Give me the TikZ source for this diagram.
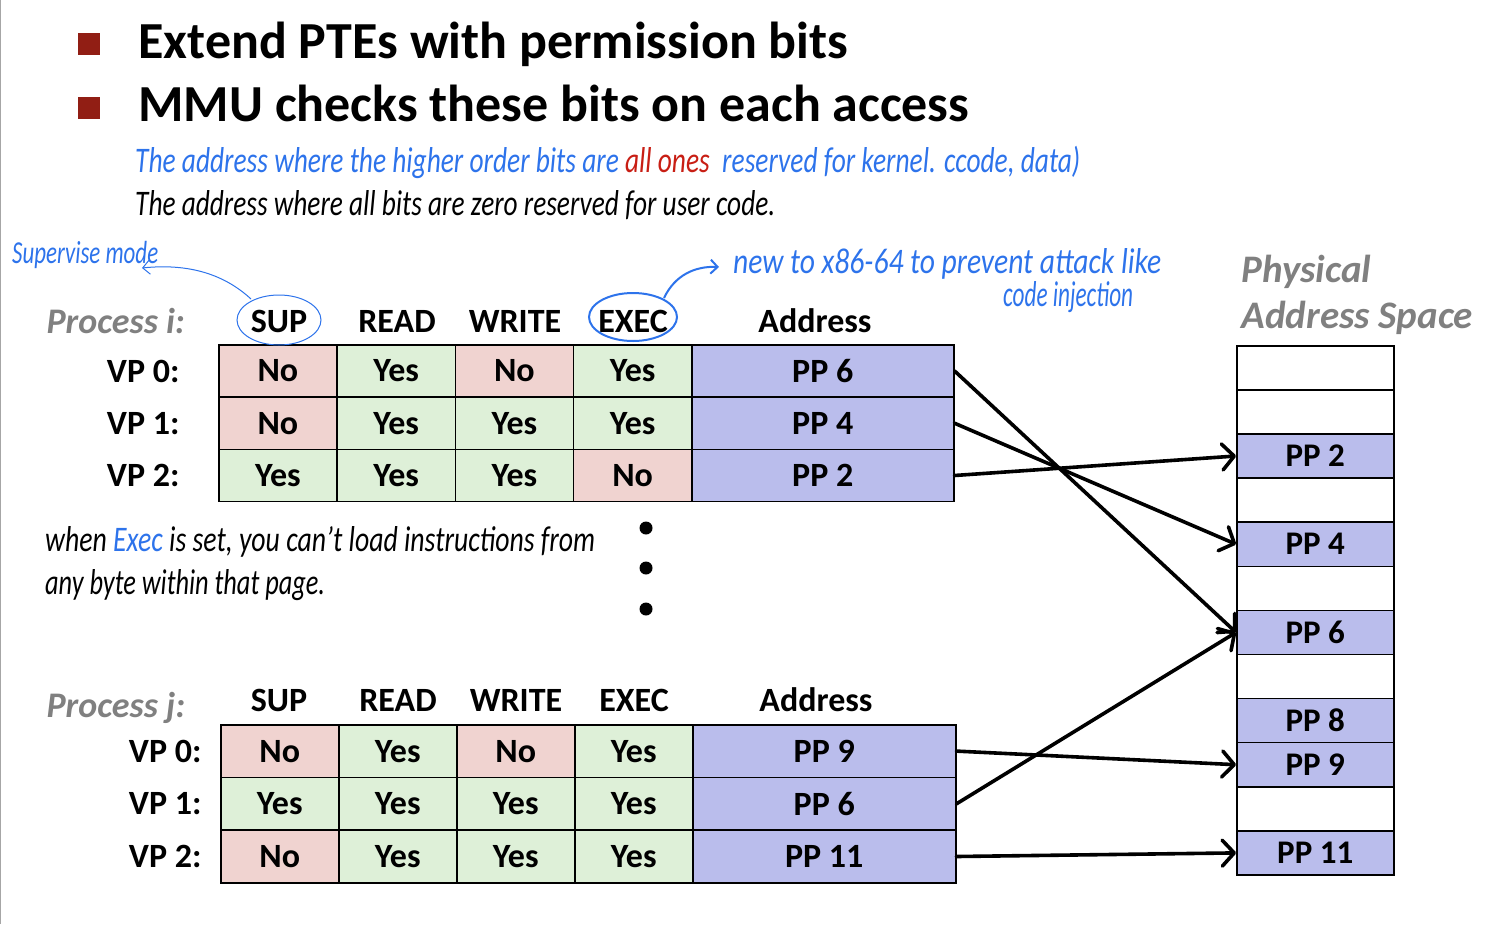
\documentclass[tikz,border=0pt]{standalone}
\usepackage{fontspec}
\setmainfont{Carlito}
\usetikzlibrary{arrows.meta}
\definecolor{cred}{RGB}{240,211,208}
\definecolor{cgrn}{RGB}{222,240,216}
\definecolor{cblu}{RGB}{186,189,236}
\definecolor{bul}{RGB}{145,30,20}
\definecolor{hwblue}{RGB}{45,115,235}
\definecolor{hwred}{RGB}{200,30,20}
\definecolor{pgray}{RGB}{128,128,128}
\newcommand{\hw}[2]{\resizebox{#1}{\height}{#2}}
\begin{document}
\begin{tikzpicture}[x=1pt,y=-1pt,
  cellbox/.style={draw=black,line width=1.5pt,inner sep=0pt,anchor=north west,
    font=\fontsize{34}{34}\selectfont\bfseries},
  No/.style={fill=cred},
  Yes/.style={fill=cgrn},
  addrbox/.style={cellbox,fill=cblu},
  physbox/.style={draw=black,line width=1.5pt,inner sep=0pt,anchor=north west,
    minimum width=157pt,minimum height=44.1pt,font=\fontsize{33}{33}\selectfont\bfseries},
  hdr/.style={anchor=base,font=\fontsize{34}{34}\selectfont\bfseries},
  proc/.style={anchor=base west,text=pgray,font=\fontsize{36}{36}\selectfont\bfseries\itshape},
  vplab/.style={anchor=base east,font=\fontsize{34}{34}\selectfont\bfseries},
  title/.style={anchor=base west,font=\fontsize{52}{52}\selectfont\bfseries},
  bullet/.style={fill=bul,draw=none,minimum size=22pt,inner sep=0pt},
  hand/.style={anchor=base west,inner sep=0pt,font=\fontsize{36}{36}\selectfont\itshape},
  arr/.style={line width=3.6pt,line cap=round,-{Straight Barb[length=12pt,width=26pt,line width=3.6pt,round]}},
  hwarr/.style={hwblue,line width=1pt,-{Straight Barb[length=7pt,width=14pt]}}
]
\useasboundingbox (0,0) rectangle (1488,924);
\draw[pgray!70,line width=1pt] (0.5,0) -- (0.5,924);

% title bullets
\node[bullet] (b1) at (89,44) {};
\node[bullet] (b2) at (89,108) {};
\node[title] (t1) at (135,58) {Extend PTEs with permission bits};
\node[title] (t2) at (135,121) {MMU checks these bits on each access};

% handwritten notes
\node[hand,text=hwblue] (h1) at (135,172) {\hw{945pt}{The address where the higher order bits are \textcolor{hwred}{all ones}\ \ reserved for kernel. ccode, data)}};
\node[hand] (h2) at (135,215) {\hw{640pt}{The address where all bits are zero reserved for user code.}};
\node[hand,text=hwblue,font=\fontsize{32}{32}\selectfont\itshape] (h3) at (12,263) {\hw{146pt}{Supervise mode}};
\node[hand,text=hwblue] (h4) at (733,273) {\hw{428pt}{new to x86-64 to prevent attack like}};
\node[hand,text=hwblue] (h5) at (1003,306) {\hw{130pt}{code injection}};
\node[hand] (h6) at (45,551) {\hw{550pt}{when \textcolor{hwblue}{Exec} is set, you can't load instructions from}};
\node[hand] (h7) at (45,594) {\hw{280pt}{any byte within that page.}};

% process i
\node[proc] (pi) at (43,333) {Process i:};
\node[hdr] (hi1) at (279,332) {SUP};
\node[hdr] (hi2) at (397,332) {READ};
\node[hdr] (hi3) at (515,332) {WRITE};
\node[hdr] (hi4) at (633,332) {EXEC};
\node[hdr] (hi5) at (815,332) {Address};
\foreach \r/\y/\vals/\addr in {0/344/{No,Yes,No,Yes}/PP 6, 1/396.3/{No,Yes,Yes,Yes}/PP 4, 2/448.6/{Yes,Yes,Yes,No}/PP 2}{
  \foreach \t [count=\k] in \vals {
    \pgfmathsetmacro\xx{218+118.25*(\k-1)}
    \node[cellbox,\t,minimum width=118.25pt,minimum height=52.3pt] (i\r-\k) at (\xx,\y) {\t};
  }
  \node[addrbox,minimum width=262pt,minimum height=52.3pt] (ia\r) at (691,\y) {\addr};
  \node[vplab] (vi\r) at (183,\y+38) {VP \r:};
}

% process j
\node[proc] (pj) at (43,717) {Process j:};
\node[hdr] (hj1) at (279,711) {SUP};
\node[hdr] (hj2) at (398,711) {READ};
\node[hdr] (hj3) at (516,711) {WRITE};
\node[hdr] (hj4) at (634,711) {EXEC};
\node[hdr] (hj5) at (816,711) {Address};
\foreach \r/\y/\vals/\addr in {0/724/{No,Yes,No,Yes}/PP 9, 1/776.7/{Yes,Yes,Yes,Yes}/PP 6, 2/829.4/{No,Yes,Yes,Yes}/PP 11}{
  \foreach \t [count=\k] in \vals {
    \pgfmathsetmacro\xx{220+118*(\k-1)}
    \node[cellbox,\t,minimum width=118pt,minimum height=52.7pt] (j\r-\k) at (\xx,\y) {\t};
  }
  \node[addrbox,minimum width=263pt,minimum height=52.7pt] (ja\r) at (692,\y) {\addr};
  \node[vplab] (vj\r) at (205,\y+38) {VP \r:};
}

% dots
\fill (646,528) circle (6.5pt);
\fill (646,568) circle (6.5pt);
\fill (646,609) circle (6.5pt);

% physical address space
\node[anchor=base west,text=pgray,font=\fontsize{39}{39}\selectfont\bfseries\itshape] (ph1) at (1238,282) {Physical};
\node[anchor=base west,text=pgray,font=\fontsize{39}{39}\selectfont\bfseries\itshape] (ph2) at (1238,328) {Address Space};
\node[physbox,fill=white] (p1) at (1236,345) {};
\node[physbox,fill=white] (p2) at (1236,389.1) {};
\node[physbox,fill=cblu] (p3) at (1236,433.2) {PP 2};
\node[physbox,fill=white] (p4) at (1236,477.3) {};
\node[physbox,fill=cblu] (p5) at (1236,521.4) {PP 4};
\node[physbox,fill=white] (p6) at (1236,565.5) {};
\node[physbox,fill=cblu] (p7) at (1236,609.6) {PP 6};
\node[physbox,fill=white] (p8) at (1236,653.7) {};
\node[physbox,fill=cblu] (p9) at (1236,697.8) {PP 8};
\node[physbox,fill=cblu] (p10) at (1236,741.9) {PP 9};
\node[physbox,fill=white] (p11) at (1236,786) {};
\node[physbox,fill=cblu] (p12) at (1236,830.1) {PP 11};

% mapping arrows
\draw[arr] (ia0.east) -- (p7.west);
\draw[arr] (ia1.east) -- (p5.west);
\draw[arr] (ia2.east) -- (p3.west);
\draw[arr] (ja0.east) -- (p10.west);
\draw[arr] (ja1.east) -- (p7.west);
\draw[arr] (ja2.east) -- (p12.west);

% annotations on headers
\draw[hwblue,line width=1pt] (279,320) ellipse [x radius=42, y radius=25];
\coordinate (supstart) at (251,299);
\coordinate (supend) at (142,268);
\draw[hwarr] (supstart) .. controls (225,275) and (190,263) .. (supend);
\draw[hwblue,line width=2pt] (633,317) ellipse [x radius=44, y radius=24];
\coordinate (exstart) at (664,298);
\coordinate (exend) at (719,267);
\draw[hwblue,line width=2pt,-{Straight Barb[length=7pt,width=14pt]}] (exstart) .. controls (675,275) and (695,266) .. (exend);
\end{tikzpicture}
\end{document}
